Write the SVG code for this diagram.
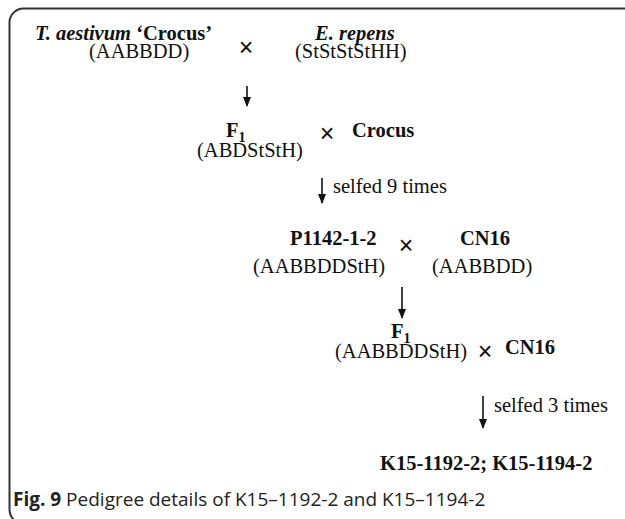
<svg xmlns="http://www.w3.org/2000/svg" width="625" height="519" viewBox="0 0 625 519">
<style>
.t{font-family:"Liberation Serif","Times New Roman",serif;font-size:20.5px;fill:#111}
.b{font-weight:bold}
.i{font-style:italic}
.x{font-family:"Liberation Sans",Arial,sans-serif;font-size:25px;fill:#111}
.cap{font-family:"Open Sans","Noto Sans",sans-serif;font-size:19px;fill:#222}
.ar{stroke:#111;stroke-width:1.6;fill:none;marker-end:url(#ah)}
</style>
<defs>
<marker id="ah" markerWidth="10" markerHeight="8" refX="9" refY="4" orient="auto" markerUnits="userSpaceOnUse" viewBox="0 0 10 8">
<path d="M0,0 L10,4 L0,8 Z" fill="#111"/>
</marker>
</defs>
<rect x="9.5" y="8.5" width="640" height="515" rx="14" ry="14" fill="none" stroke="#333" stroke-width="2"/>
<g id="crocus">
<text class="t b" x="35" y="40"><tspan class="i">T. aestivum</tspan> ‘Crocus’</text>
<text class="t" x="89" y="58">(AABBDD)</text>
</g>
<text class="x" x="246" y="56" text-anchor="middle">×</text>
<g id="repens">
<text class="t b i" x="315" y="40">E. repens</text>
<text class="t" x="295" y="58">(StStStStHH)</text>
</g>
<g id="f1a">
<text class="t b" x="226" y="137">F<tspan font-size="14" dy="5">1</tspan></text>
<text class="t" x="197" y="157">(ABDStStH)</text>
</g>
<text class="x" x="327" y="142" text-anchor="middle">×</text>
<g id="crocus2"><text class="t b" x="352" y="137">Crocus</text></g>
<text class="t" x="333" y="193">selfed 9 times</text>
<g id="p1142">
<text class="t b" x="290" y="245">P1142-1-2</text>
<text class="t" x="253" y="273">(AABBDDStH)</text>
</g>
<text class="x" x="406" y="254" text-anchor="middle">×</text>
<g id="cn16a">
<text class="t b" x="460" y="245">CN16</text>
<text class="t" x="432" y="273">(AABBDD)</text>
</g>
<g id="f1b">
<text class="t b" x="391" y="338">F<tspan font-size="14" dy="5">1</tspan></text>
<text class="t" x="335" y="358">(AABBDDStH)</text>
</g>
<text class="x" x="485" y="360" text-anchor="middle">×</text>
<g id="cn16b"><text class="t b" x="505" y="354">CN16</text></g>
<text class="t" x="494" y="412">selfed 3 times</text>
<g id="k15"><text class="t b" x="380" y="470" font-size="21">K15-1192-2; K15-1194-2</text></g>
<g id="connectors">
<line class="ar" x1="247" y1="86" x2="247" y2="106"/>
<line class="ar" x1="322" y1="178" x2="322" y2="203"/>
<line class="ar" x1="402" y1="287" x2="402" y2="318"/>
<line class="ar" x1="483" y1="396" x2="483" y2="428"/>
</g>
<text class="cap" x="13" y="506"><tspan font-weight="bold">Fig. 9</tspan> Pedigree details of K15–1192-2 and K15–1194-2</text>
</svg>
